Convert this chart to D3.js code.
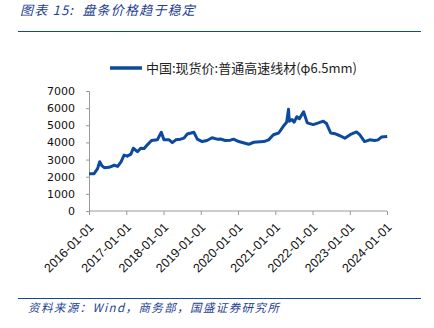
<!DOCTYPE html>
<html><head><meta charset="utf-8">
<script src="https://cdn.jsdelivr.net/npm/d3@7"></script>
<style>body{margin:0;background:#fff}svg{display:block}</style>
</head><body>
<svg id="c" width="434" height="328"></svg>
<script>
const title = "图表 15:  盘条价格趋于稳定";
const source = "资料来源：Wind，商务部，国盛证券研究所";
const seriesName = "中国:现货价:普通高速线材(φ6.5mm)";
const dates = ["2016-01-01","2016-02-20","2016-03-25","2016-04-15","2016-05-05","2016-05-30","2016-07-15","2016-09-05","2016-10-08","2016-11-10","2016-12-10",
"2017-01-10","2017-02-15","2017-03-10","2017-04-20","2017-05-22","2017-06-25","2017-07-26","2017-09-05","2017-11-01","2017-12-10",
"2018-01-05","2018-02-25","2018-03-28","2018-05-01","2018-06-17","2018-07-20","2018-08-22","2018-10-26","2018-11-28",
"2019-01-15","2019-03-03","2019-04-22","2019-06-10","2019-07-12","2019-08-30","2019-10-20","2019-11-18",
"2020-01-08","2020-04-15","2020-06-03","2020-09-10","2020-10-27","2020-12-13",
"2021-02-03","2021-03-20","2021-04-22","2021-05-10","2021-05-18","2021-06-13","2021-07-05","2021-07-31","2021-08-25","2021-10-05","2021-11-10",
"2022-01-08","2022-02-28","2022-04-16","2022-05-18","2022-06-28","2022-08-08","2022-09-27","2022-11-14",
"2023-01-04","2023-03-08","2023-04-08","2023-05-26","2023-07-16","2023-09-02","2023-10-05","2023-11-07","2024-01-03"];
const values = [2180,2180,2470,2870,2650,2530,2550,2670,2600,2870,3260,
3200,3320,3660,3460,3660,3650,3860,4110,4150,4590,
4150,4150,3990,4150,4190,4250,4490,4590,4190,
4050,4110,4270,4190,4200,4110,4130,4190,
4050,3890,4010,4050,4150,4450,
4550,4940,5180,5930,5240,5340,5180,5500,5380,5790,5140,
5040,5140,5240,5100,4550,4510,4390,4250,
4450,4610,4450,4050,4150,4110,4150,4310,4350];
const xTicks = ["2016-01-01","2017-01-01","2018-01-01","2019-01-01","2020-01-01","2021-01-01","2022-01-01","2023-01-01","2024-01-01"];
const yTicks = [0,1000,2000,3000,4000,5000,6000,7000];

const parse = d3.timeParse("%Y-%m-%d");
const data = dates.map((d,i)=>({d:parse(d),v:values[i]}));
const svg = d3.select("#c");
const blue = "#0b4a9e";
const textBlue = "#1f3f8f";

const x = d3.scaleTime().domain([parse("2016-01-01"),parse("2024-01-01")]).range([89,387]);
const y = d3.scaleLinear().domain([0,7000]).range([211,91]);

// header
svg.append("text").attr("x",20).attr("y",15).attr("fill",textBlue)
  .attr("font-family","'Noto Sans CJK SC'").attr("font-size",13).attr("font-style","italic")
  .attr("letter-spacing",1.2)
  .attr("xml:space","preserve").style("white-space","pre").text(title);
svg.append("line").attr("x1",18).attr("x2",421).attr("y1",31.5).attr("y2",31.5).attr("stroke",blue).attr("stroke-width",1.2);
svg.append("line").attr("x1",18).attr("x2",421).attr("y1",298.5).attr("y2",298.5).attr("stroke",blue).attr("stroke-width",1.2);
svg.append("text").attr("x",28).attr("y",312).attr("fill",textBlue)
  .attr("font-family","'Noto Sans CJK SC'").attr("font-size",11.5).attr("font-style","italic")
  .attr("letter-spacing",1.4).text(source);

// legend
svg.append("line").attr("x1",110).attr("x2",142).attr("y1",68).attr("y2",68).attr("stroke",blue).attr("stroke-width",3.5);
svg.append("text").attr("x",146).attr("y",72.5).attr("fill","#222")
  .attr("font-family","'Noto Sans CJK SC'").attr("font-size",13).text(seriesName);

// axes
const yAxis = d3.axisLeft(y).tickValues(yTicks).tickSize(3).tickPadding(11).tickFormat(d3.format("d"));
const gy = svg.append("g").attr("transform","translate(89,0)").call(yAxis);
gy.selectAll("text").attr("font-family","'DejaVu Sans'").attr("font-size",11).attr("fill","#111");
gy.selectAll("line,path").attr("stroke","#999");

const xAxis = d3.axisBottom(x).tickValues(xTicks.map(parse)).tickSize(4).tickFormat(d3.timeFormat("%Y-%m-%d"));
const gx = svg.append("g").attr("transform","translate(0,211)").call(xAxis);
gx.select(".domain").attr("d","M89,0H387").attr("stroke","#999");
gx.selectAll(".tick line").attr("stroke","#999");
gx.selectAll("text").attr("font-family","'Liberation Sans'").attr("font-size",12.5).attr("fill","#111")
  .attr("text-anchor","end").attr("dy",null).attr("y",0)
  .attr("transform","translate(5,17) rotate(-45)");

// line
svg.append("path").datum(data).attr("fill","none").attr("stroke",blue).attr("stroke-width",3)
  .attr("stroke-linejoin","round")
  .attr("d",d3.line().x(d=>x(d.d)).y(d=>y(d.v)));
</script>
</body></html>
